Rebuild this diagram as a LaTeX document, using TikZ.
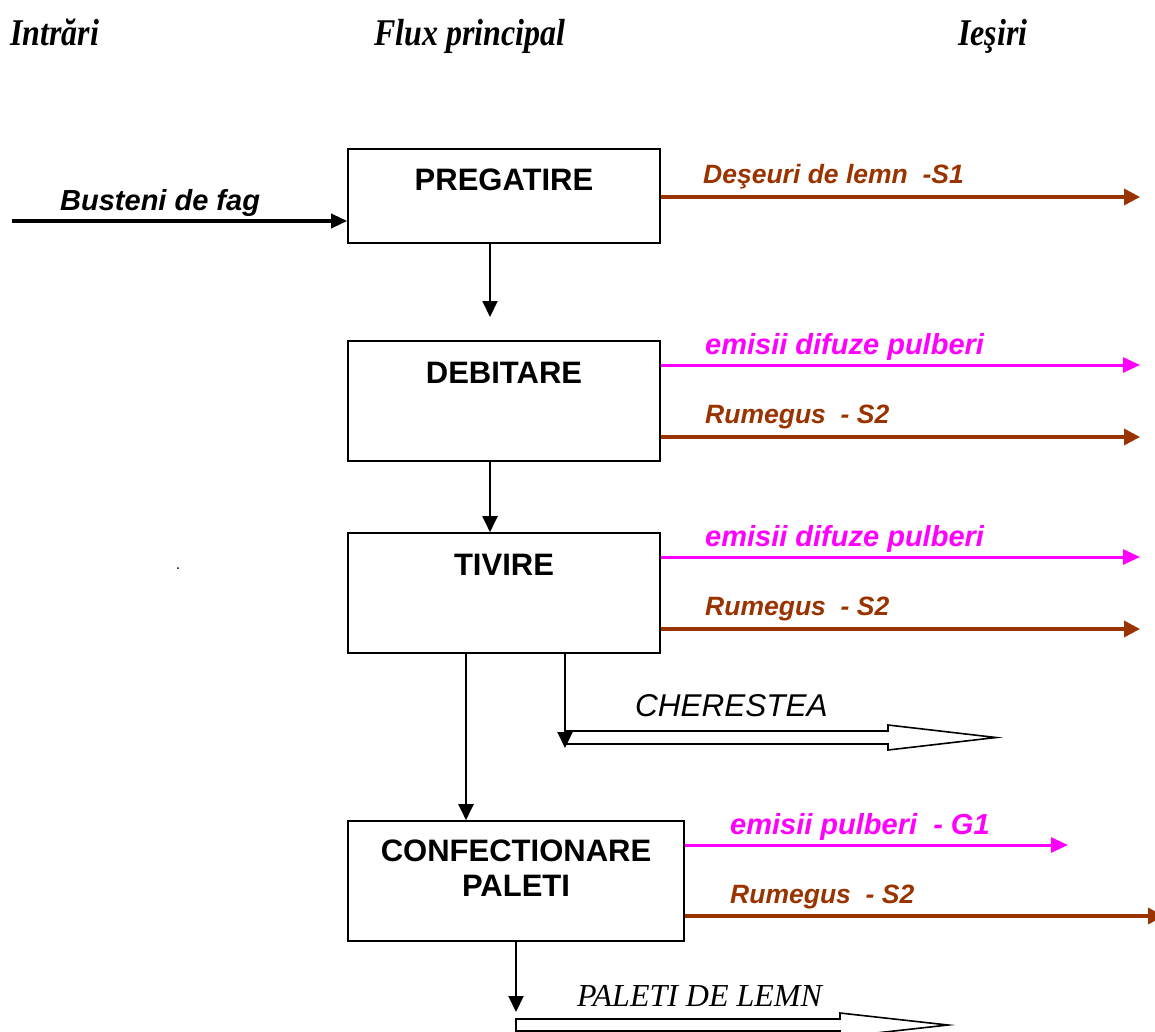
\documentclass[tikz,border=0pt]{standalone}
\usepackage{fontspec}
\setmainfont{Liberation Serif}
\setsansfont{Liberation Sans}
\usetikzlibrary{arrows.meta,calc}
\definecolor{wood}{HTML}{993300}
\definecolor{dust}{HTML}{FF00FF}
\newcommand{\tallhead}[1]{\scalebox{1}[1.18]{#1}}

\begin{document}
\begin{tikzpicture}[x=1pt,y=-1pt,
  procbox/.style={draw, line width=1.6pt, inner sep=0pt, fill=white},
  boxtext/.style={font=\sffamily\bfseries\fontsize{31}{35}\selectfont, align=center, inner sep=0pt},
  colhead/.style={font=\rmfamily\bfseries\itshape\fontsize{32}{36}\selectfont, anchor=base west, inner sep=0pt},
  woodlbl/.style={font=\sffamily\bfseries\itshape\fontsize{26.5}{30}\selectfont, text=wood, anchor=base west, inner sep=0pt},
  dustlbl/.style={font=\sffamily\bfseries\itshape\fontsize{29}{33}\selectfont, text=dust, anchor=base west, inner sep=0pt},
  woodout/.style={draw=wood, line width=3.5pt, -{Triangle[length=16pt,width=16pt]}},
  dustout/.style={draw=dust, line width=3pt, -{Triangle[length=17pt,width=15pt]}},
  flow/.style={line width=2pt, -{Triangle[length=16pt,width=15pt]}},
  hollow/.style={draw, line width=1.6pt, fill=white, line join=miter},
  prodlbl/.style={anchor=base west, inner sep=0pt}
]
\useasboundingbox (0,0) rectangle (1155,1032);
\clip (0,0) rectangle (1155,1032);

% column headings
\node[colhead] (hin)  at (10,46)  {\tallhead{Intrări}};
\node[colhead] (hmid) at (374,46) {\tallhead{Flux principal}};
\node[colhead] (hout) at (958,46) {\tallhead{Ieşiri}};

% process boxes
\node[procbox, minimum width=312, minimum height=94]  (preg)    at (504,196) {};
\node[procbox, minimum width=312, minimum height=120] (debit)   at (504,401) {};
\node[procbox, minimum width=312, minimum height=120] (tivire)  at (504,593) {};
\node[procbox, minimum width=336, minimum height=120] (confect) at (516,881) {};

\node[boxtext, anchor=base] (pregt)  at (504,191) {PREGATIRE};
\node[boxtext, anchor=base] (debitt) at (504,383) {DEBITARE};
\node[boxtext, anchor=base] (tivt)   at (504,575) {TIVIRE};
\node[boxtext, anchor=north] (conft) at (516,840) {CONFECTIONARE\\PALETI};

% raw material input
\coordinate (in) at (12,221);
\draw[line width=3.5pt, -{Triangle[length=16pt,width=14pt]}] (in) -- (in -| preg.west);
\node[font=\sffamily\bfseries\itshape\fontsize{29}{33}\selectfont, anchor=base west, inner sep=0pt] (int) at (60,211) {Busteni de fag};

% main flow
\coordinate (d1) at (490,317);
\draw[flow] (preg.south -| d1) -- (d1);
\draw[flow] (debit.south -| d1) -- (tivire.north -| d1);
\coordinate (d3) at (466,0);
\draw[flow] (tivire.south -| d3) -- (confect.north -| d3);

% outputs of PREGATIRE
\coordinate (s1) at (1140,197);
\draw[woodout] (preg.east |- s1) -- (s1);
\node[woodlbl] (s1t) at (703,184) {Deşeuri de lemn\ \ -S1};

% outputs of DEBITARE
\coordinate (e1) at (1140,365);
\draw[dustout] (debit.east |- e1) -- (e1);
\node[dustlbl] (e1t) at (705,354) {emisii difuze pulberi};
\coordinate (r1) at (1140,437);
\draw[woodout] (debit.east |- r1) -- (r1);
\node[woodlbl] (r1t) at (705,423.5) {Rumegus\ \ - S2};

% outputs of TIVIRE
\coordinate (e2) at (1140,557);
\draw[dustout] (tivire.east |- e2) -- (e2);
\node[dustlbl] (e2t) at (705,546) {emisii difuze pulberi};
\coordinate (r2) at (1140,629);
\draw[woodout] (tivire.east |- r2) -- (r2);
\node[woodlbl] (r2t) at (705,615.5) {Rumegus\ \ - S2};

% sawn timber product
\coordinate (ch) at (565,737.5);
\draw[hollow] ($(ch)+(0,-6.5)$) -- ++(323,0) -- ++(0,-6) -- ++(108,12.5) -- ++(-108,12.5) -- ++(0,-6) -- ++(-323,0) -- cycle;
\draw[flow] (tivire.south -| ch) -- ($(ch)+(0,10.5)$);
\node[prodlbl, font=\sffamily\itshape\fontsize{31.5}{35}\selectfont] (cht) at (635,716) {CHERESTEA};

% outputs of CONFECTIONARE PALETI
\coordinate (g1) at (1068,845);
\draw[dustout] (confect.east |- g1) -- (g1);
\node[dustlbl] (g1t) at (730,834) {emisii pulberi\ \ - G1};
\coordinate (r3) at (1164,916);
\draw[woodout] (confect.east |- r3) -- (r3);
\node[woodlbl] (r3t) at (730,903) {Rumegus\ \ - S2};

% pallet product
\coordinate (pl) at (516,1025);
\draw[hollow] ($(pl)+(0,-6)$) -- ++(324,0) -- ++(0,-6) -- ++(108,12) -- ++(-108,12) -- ++(0,-6) -- ++(-324,0) -- cycle;
\draw[flow] (confect.south -| pl) -- ($(pl)+(0,-13)$);
\node[prodlbl, font=\rmfamily\itshape\fontsize{32}{36}\selectfont] (plt) at (577,1006) {PALETI DE LEMN};

% stray mark
\fill (178,568) circle (1);
\end{tikzpicture}
\end{document}
